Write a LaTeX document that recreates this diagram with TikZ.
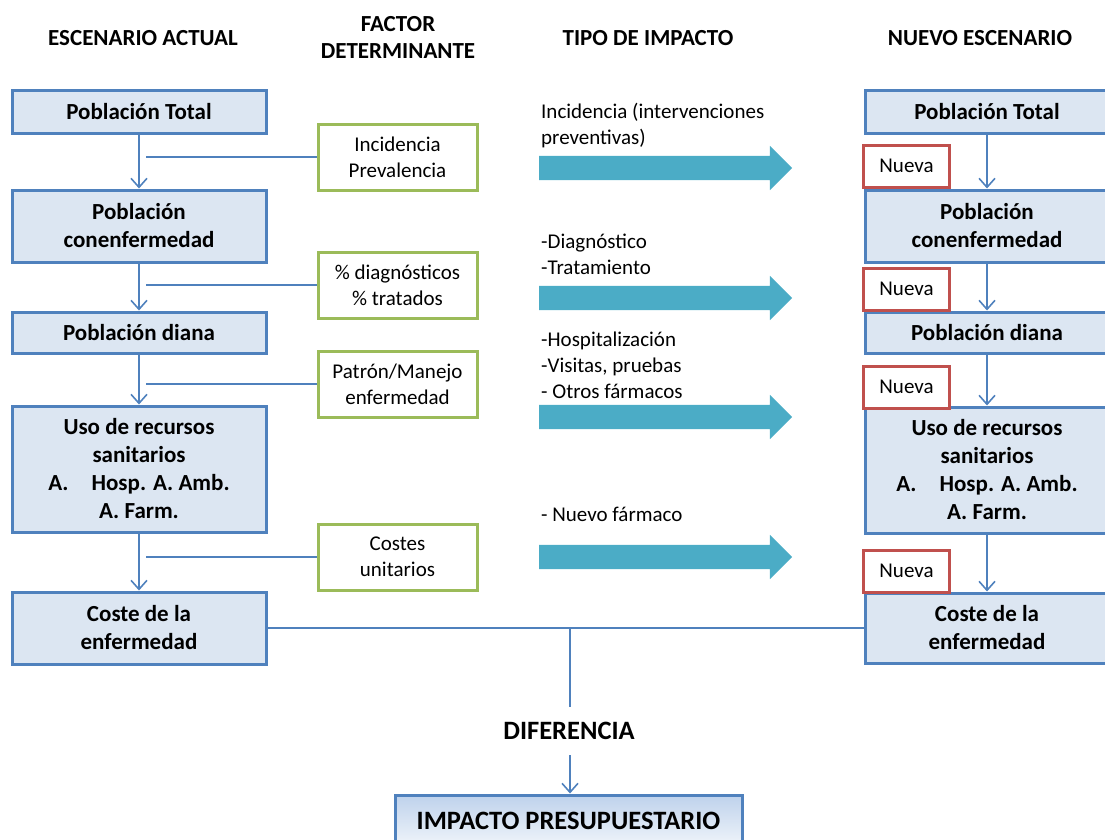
\documentclass[tikz,border=0pt]{standalone}
\usepackage{fontspec}
\setmainfont{Carlito}
\usepackage{xcolor}
\usetikzlibrary{arrows.meta, positioning, shapes.arrows, calc}
\definecolor{boxBlue}{RGB}{79, 129, 189}
\definecolor{boxFill}{RGB}{220, 230, 242}
\definecolor{factorGreen}{RGB}{155, 187, 89}
\definecolor{nuevaRed}{RGB}{192, 80, 77}
\definecolor{impactTeal}{RGB}{75, 172, 198}
\definecolor{shadeTop}{RGB}{190, 210, 236}

\begin{document}
\begin{tikzpicture}[
        x=1pt, y=-1pt,
        font=\fontsize{21}{26}\selectfont,
        scenario/.style={rectangle, draw=boxBlue, fill=boxFill, line width=3pt, inner sep=0pt, align=center, font=\fontsize{23}{28}\selectfont\bfseries},
        factor/.style={rectangle, draw=factorGreen, fill=white, line width=3pt, minimum width=159pt, minimum height=66pt, inner sep=0pt, align=center},
        nueva/.style={rectangle, draw=nuevaRed, fill=white, line width=3pt, minimum width=86pt, minimum height=42pt, inner sep=0pt},
        header/.style={align=center, font=\fontsize{23}{27}\selectfont\bfseries},
        impact/.style={anchor=north west, align=left, inner sep=0pt},
        bigarrow/.style={single arrow, fill=impactTeal, draw=none, minimum height=253pt, single arrow head extend=10pt, inner sep=12pt},
        flow/.style={-{Straight Barb[length=9pt, width=16pt]}, boxBlue, line width=1.6pt},
        link/.style={boxBlue, line width=1.6pt}
    ]
        \useasboundingbox (0,0) rectangle (1105,839);
        % column headers
        \node[header] (hActual) at (143,38) {ESCENARIO ACTUAL};
        \node[header] (hFactor) at (398,37) {FACTOR\\DETERMINANTE};
        \node[header] (hTipo) at (648,38) {TIPO DE IMPACTO};
        \node[header] (hNuevo) at (980,38) {NUEVO ESCENARIO};
        % escenario actual
        \node[scenario, minimum width=254pt, minimum height=43pt] (total) at (139,111.5) {Población Total};
        \node[scenario, minimum width=254pt, minimum height=72pt] (enferma) at (139,226) {Población\\conenfermedad};
        \node[scenario, minimum width=254pt, minimum height=41pt] (diana) at (139,332.5) {Población diana};
        \node[scenario, minimum width=254pt, minimum height=126pt] (recursos) at (139,469) {Uso de recursos\\sanitarios\\A.\quad Hosp. A. Amb.\\A. Farm.};
        \node[scenario, minimum width=254pt, minimum height=72pt] (coste) at (139,628) {Coste de la\\enfermedad};
        \draw[flow] (total) -- (enferma);
        \draw[flow] (enferma) -- (diana);
        \draw[flow] (diana) -- (recursos);
        \draw[flow] (recursos) -- (coste);
        % factores
        \node[factor] (incid) at (397.5,157) {Incidencia\\Prevalencia};
        \node[factor] (diagn) at (397.5,285) {\% diagnósticos\\\% tratados};
        \node[factor] (manejo) at (397.5,384) {Patrón/Manejo\\enfermedad};
        \node[factor] (costes) at (397.5,557) {Costes\\unitarios};
        \coordinate (b1) at (146,157);
        \coordinate (b2) at (146,285);
        \coordinate (b3) at (146,384);
        \coordinate (b4) at (146,557);
        \draw[link] (b1) -- (incid.west);
        \draw[link] (b2) -- (diagn.west);
        \draw[link] (b3) -- (manejo.west);
        \draw[link] (b4) -- (costes.west);
        % tipo de impacto
        \node[impact] (t1) at (541,103) {Incidencia (intervenciones\\preventivas)};
        \node[impact] (t2) at (541,234) {-Diagnóstico\\-Tratamiento};
        \node[impact] (t3) at (541,332) {-Hospitalización\\-Visitas, pruebas\\- Otros fármacos};
        \node[impact] (t4) at (541,507) {- Nuevo fármaco};
        \node[bigarrow] (a1) at (659.5,168) {};
        \node[bigarrow] (a2) at (659.5,298) {};
        \node[bigarrow] (a3) at (659.5,417) {};
        \node[bigarrow] (a4) at (659.5,557) {};
        % nuevo escenario
        \node[scenario, minimum width=244pt, minimum height=43pt] (ntotal) at (987,111.5) {Población Total};
        \node[scenario, minimum width=244pt, minimum height=72pt] (nenferma) at (987,226) {Población\\conenfermedad};
        \node[scenario, minimum width=244pt, minimum height=41pt] (ndiana) at (987,332.5) {Población diana};
        \node[scenario, minimum width=244pt, minimum height=126pt] (nrecursos) at (987,470) {Uso de recursos\\sanitarios\\A.\quad Hosp. A. Amb.\\A. Farm.};
        \node[scenario, minimum width=244pt, minimum height=70pt] (ncoste) at (987,628) {Coste de la\\enfermedad};
        \draw[flow] (ntotal) -- (nenferma);
        \draw[flow] (nenferma) -- (ndiana);
        \draw[flow] (ndiana) -- (nrecursos);
        \draw[flow] (nrecursos) -- (ncoste);
        \node[nueva] (n1) at (906.5,166) {Nueva};
        \node[nueva] (n2) at (906.5,289) {Nueva};
        \node[nueva] (n3) at (906.5,387) {Nueva};
        \node[nueva] (n4) at (906.5,571) {Nueva};
        % diferencia
        \draw[link] (coste) -- (ncoste);
        \coordinate (join) at (570,628);
        \node[font=\fontsize{26.5}{30}\selectfont\bfseries, minimum height=48pt, inner sep=0pt] (dif) at (569,731) {DIFERENCIA};
        \node[rectangle, draw=boxBlue, line width=3pt, top color=shadeTop, bottom color=boxFill!40, minimum width=347pt, minimum height=52pt, font=\fontsize{26.5}{30}\selectfont\bfseries] (presup) at (568.5,821) {IMPACTO PRESUPUESTARIO};
        \draw[link] (join) -- (join |- dif.north);
        \draw[flow] (dif.south -| join) -- (join |- presup.north);
    \end{tikzpicture}
\end{document}
